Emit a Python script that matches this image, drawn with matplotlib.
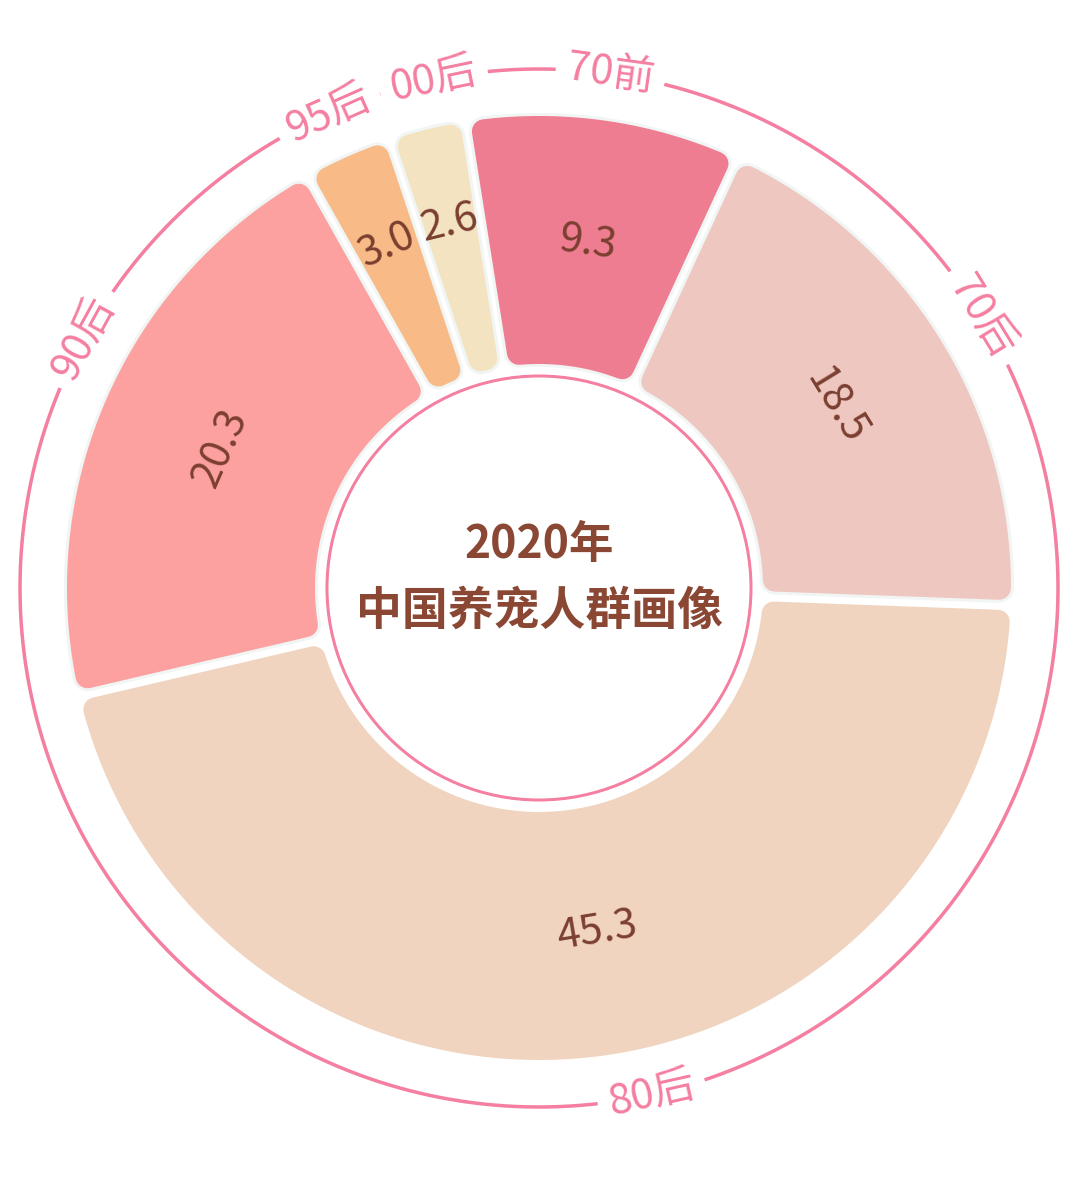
import numpy as np
import matplotlib
matplotlib.use('Agg')
import matplotlib.pyplot as plt
from matplotlib.patches import Polygon, Circle

plt.rcParams['font.family'] = ['Noto Sans CJK SC', 'DejaVu Sans']

# data, clockwise from the top
groups = ['70前', '70后', '80后', '90后', '95后', '00后']
shares = [9.3, 18.5, 45.3, 20.3, 3.0, 2.6]
colors = ['#EE7D92', '#EEC8C0', '#F0D4BF', '#FCA0A0', '#F8BB88', '#F3E3C1']
title_lines = ['2020年', '中国养宠人群画像']

W, H = 1080, 1185
PX = 72 / 100  # points per pixel at dpi 100

cx, cy = 539, H - 588
r_in, r_out = 224, 472
r_hole = 212
r_ring = 519
rc = 12      # corner radius
gap = 10     # gap between slices
halo = 3
start = 99.0

pink = '#F47FA0'
brown = '#7B3F30'

fig = plt.figure(figsize=(W / 100, H / 100), dpi=100)
ax = fig.add_axes([0, 0, 1, 1])
ax.set_xlim(0, W)
ax.set_ylim(0, H)
ax.set_aspect('equal')
ax.axis('off')

total = sum(shares)
spans = [v / total * 360 for v in shares]
edges = start - np.concatenate([[0], np.cumsum(spans)])
mids = (edges[:-1] + edges[1:]) / 2


def pol(r, a):
    t = np.radians(a)
    return cx + r * np.cos(t), cy + r * np.sin(t)


def sector(a0, a1, r0, r1):
    # shrunk annular sector, the round stroke grows it back with round corners
    d = gap / 2 + rc
    ri, ro = r0 + rc, r1 - rc
    do = np.degrees(np.arcsin(d / ro))
    di = np.degrees(np.arcsin(d / ri))
    xo, yo = pol(ro, np.linspace(a0 - do, a1 + do, 150))
    xi, yi = pol(ri, np.linspace(a1 + di, a0 - di, 80))
    return np.column_stack([np.r_[xo, xi], np.r_[yo, yi]])


def tangent_rot(a):
    a = a % 360
    if a <= 180:
        return a - 90
    return a + 90


big = int(np.argmax(shares))
for i in range(len(shares)):
    pts = sector(edges[i], edges[i + 1], r_in, r_out)
    if i != big:
        ax.add_patch(Polygon(pts, closed=True, fc='#F1F5F4', ec='#F1F5F4',
                             lw=2 * (rc + halo) * PX, joinstyle='round', zorder=1))
    ax.add_patch(Polygon(pts, closed=True, fc=colors[i], ec=colors[i],
                         lw=2 * rc * PX, joinstyle='round', zorder=2))

    r_lab = (r_in + r_out) / 2
    if spans[i] < 15:
        r_lab += 27
    a_lab = mids[i] + (4 if i == big else 0)
    x, y = pol(r_lab, a_lab)
    ax.text(x, y, '%.1f' % shares[i], fontsize=30, color=brown,
            rotation=tangent_rot(a_lab), rotation_mode='anchor',
            ha='center', va='center', zorder=4)

# centre
ax.add_patch(Circle((cx, cy), r_hole, fc='white', ec=pink, lw=3 * PX, zorder=3))
ax.text(cx, H - 545, title_lines[0], fontsize=32, fontweight='bold',
        color='#8A4734', ha='center', va='center', zorder=4)
ax.text(cx, H - 612, title_lines[1], fontsize=33, fontweight='bold',
        color='#8A4734', ha='center', va='center', zorder=4)

# outer ring with labels
nudge = {'80后': 7, '90后': -5, '00后': -2}
renderer = fig.canvas.get_renderer()
gaps = []
for i, g in enumerate(groups):
    a = mids[i] + nudge.get(g, 0)
    x, y = pol(r_ring, a)
    t = ax.text(x, y, g, fontsize=30, color=pink, rotation=0,
                rotation_mode='anchor', ha='center', va='center', zorder=4)
    w = t.get_window_extent(renderer).width
    t.set_rotation(tangent_rot(a))
    hw = np.degrees((w / 2 + 11) / r_ring)
    gaps.append((a % 360 - hw, a % 360 + hw))

gaps.sort()
for k in range(len(gaps)):
    a0 = gaps[k][1]
    a1 = gaps[(k + 1) % len(gaps)][0]
    if k == len(gaps) - 1:
        a1 += 360
    if a1 <= a0:
        continue
    x, y = pol(r_ring, np.linspace(a0, a1, 200))
    ax.plot(x, y, color=pink, lw=3.5 * PX, solid_capstyle='butt', zorder=3)

fig.savefig('out.png', dpi=100, facecolor='white')
